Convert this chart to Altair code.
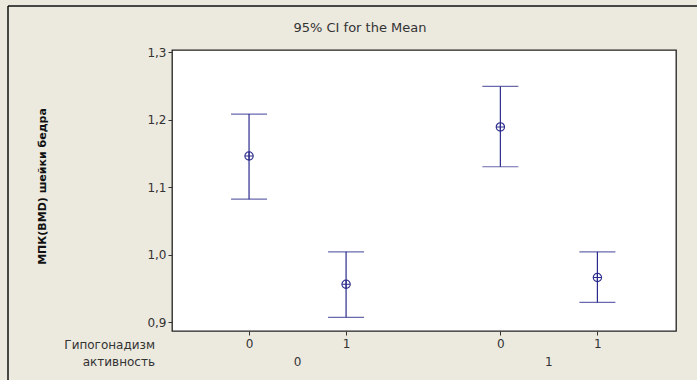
import altair as alt
import pandas as pd

# ---- data ----
activity = ["0", "0", "1", "1"]          # активность
hypogonadism = ["0", "1", "0", "1"]      # Гипогонадизм
means = [1.146, 0.956, 1.189, 0.966]
lower = [1.082, 0.907, 1.130, 0.929]
upper = [1.208, 1.004, 1.249, 1.004]
y_ticks = [0.9, 1.0, 1.1, 1.2, 1.3]

STEP = 2.59  # spacing between activity groups (layout only)
pos = [int(a) * STEP + int(h) + 1 for a, h in zip(activity, hypogonadism)]

df = pd.DataFrame({
    "pos": pos, "mean": means, "lo": lower, "hi": upper,
    "act": activity, "hyp": hypogonadism,
})
grp = pd.DataFrame({
    "act": ["0", "1"],
    "pos": [1.5, 1.5 + STEP],
})

COL = "#2a2a8c"
FONT = "DejaVu Sans"
FS = 12
W, H = 504, 281
xs = alt.Scale(domain=[0.206, 5.40], nice=False, zero=False)
ys = alt.Scale(domain=[0.8867, 1.303], nice=False, zero=False)

x_axis = alt.Axis(
    values=pos, title=None, grid=False, domain=False,
    labelExpr="(round(datum.value*100) == 100 || round(datum.value*100) == 359) ? '0' : '1'",
    tickSize=4, tickColor="#333", labelColor="#333", labelFont=FONT,
    labelFontSize=FS, labelPadding=3,
)
y_axis = alt.Axis(
    values=y_ticks, title="МПК(BMD) шейки бедра", grid=False, domain=False,
    labelExpr="replace(format(datum.value, '.1f'), '.', ',')",
    tickSize=4, tickColor="#333", labelColor="#333", labelFont=FONT,
    labelFontSize=FS, titleFont=FONT, titleFontSize=11, titleFontWeight="bold",
    titleColor="#111", titleX=-125, titleY=136, titleAngle=-90,
)

base = alt.Chart(df)

rules = base.mark_rule(color=COL, strokeWidth=1.2).encode(
    x=alt.X("pos:Q", scale=xs, axis=x_axis),
    y=alt.Y("lo:Q", scale=ys, axis=y_axis),
    y2="hi:Q",
)
cap_hi = base.mark_tick(color=COL, orient="horizontal", size=36, thickness=1.2).encode(
    x=alt.X("pos:Q", scale=xs), y=alt.Y("hi:Q", scale=ys),
)
cap_lo = base.mark_tick(color=COL, orient="horizontal", size=36, thickness=1.2).encode(
    x=alt.X("pos:Q", scale=xs), y=alt.Y("lo:Q", scale=ys),
)
pts = base.mark_point(
    shape="M-1,0A1,1 0 1,1 1,0A1,1 0 1,1 -1,0ZM-1,0H1M0,-1V1",
    filled=False, color=COL, size=70, strokeWidth=1.1, opacity=1,
).encode(x=alt.X("pos:Q", scale=xs), y=alt.Y("mean:Q", scale=ys))

grp_text = alt.Chart(grp).mark_text(
    font=FONT, fontSize=FS, color="#333", baseline="middle"
).encode(x=alt.X("pos:Q", scale=xs), y=alt.value(312), text="act:N")

labels = pd.DataFrame({"t": ["Гипогонадизм", "активность"], "yy": [14, 31]})
row_text = alt.Chart(labels).transform_calculate(py=f"datum.yy + {H}").mark_text(
    font=FONT, fontSize=FS, color="#333", align="right", baseline="middle"
).encode(x=alt.value(-17), y=alt.Y("py:Q", scale=None), text="t:N")

title = alt.Chart(pd.DataFrame({"t": ["95% CI for the Mean"]})).mark_text(
    font=FONT, fontSize=13, color="#333", align="center", baseline="middle"
).encode(x=alt.value(188), y=alt.value(-22), text="t:N")

frame_top = alt.Chart(pd.DataFrame({"v": [0]})).mark_rule(color="#111", strokeWidth=1.5).encode(
    x=alt.value(-164), x2=alt.value(530), y=alt.value(-44)
)
frame_left = alt.Chart(pd.DataFrame({"v": [0]})).mark_rule(color="#111", strokeWidth=1.5).encode(
    x=alt.value(-164), y=alt.value(-44), y2=alt.value(335)
)

chart = alt.layer(
    frame_top, frame_left, rules, cap_hi, cap_lo, pts, grp_text, row_text, title
).properties(
    width=W, height=H,
    autosize=alt.AutoSizeParams(type="none"),
    padding={"left": 172, "top": 50, "right": 21, "bottom": 49},
    background="#ece9df",
).configure_view(
    stroke="#222", strokeWidth=1.3, fill="white"
)

chart.save("out.html", embed_options={"renderer": "svg", "actions": False})
